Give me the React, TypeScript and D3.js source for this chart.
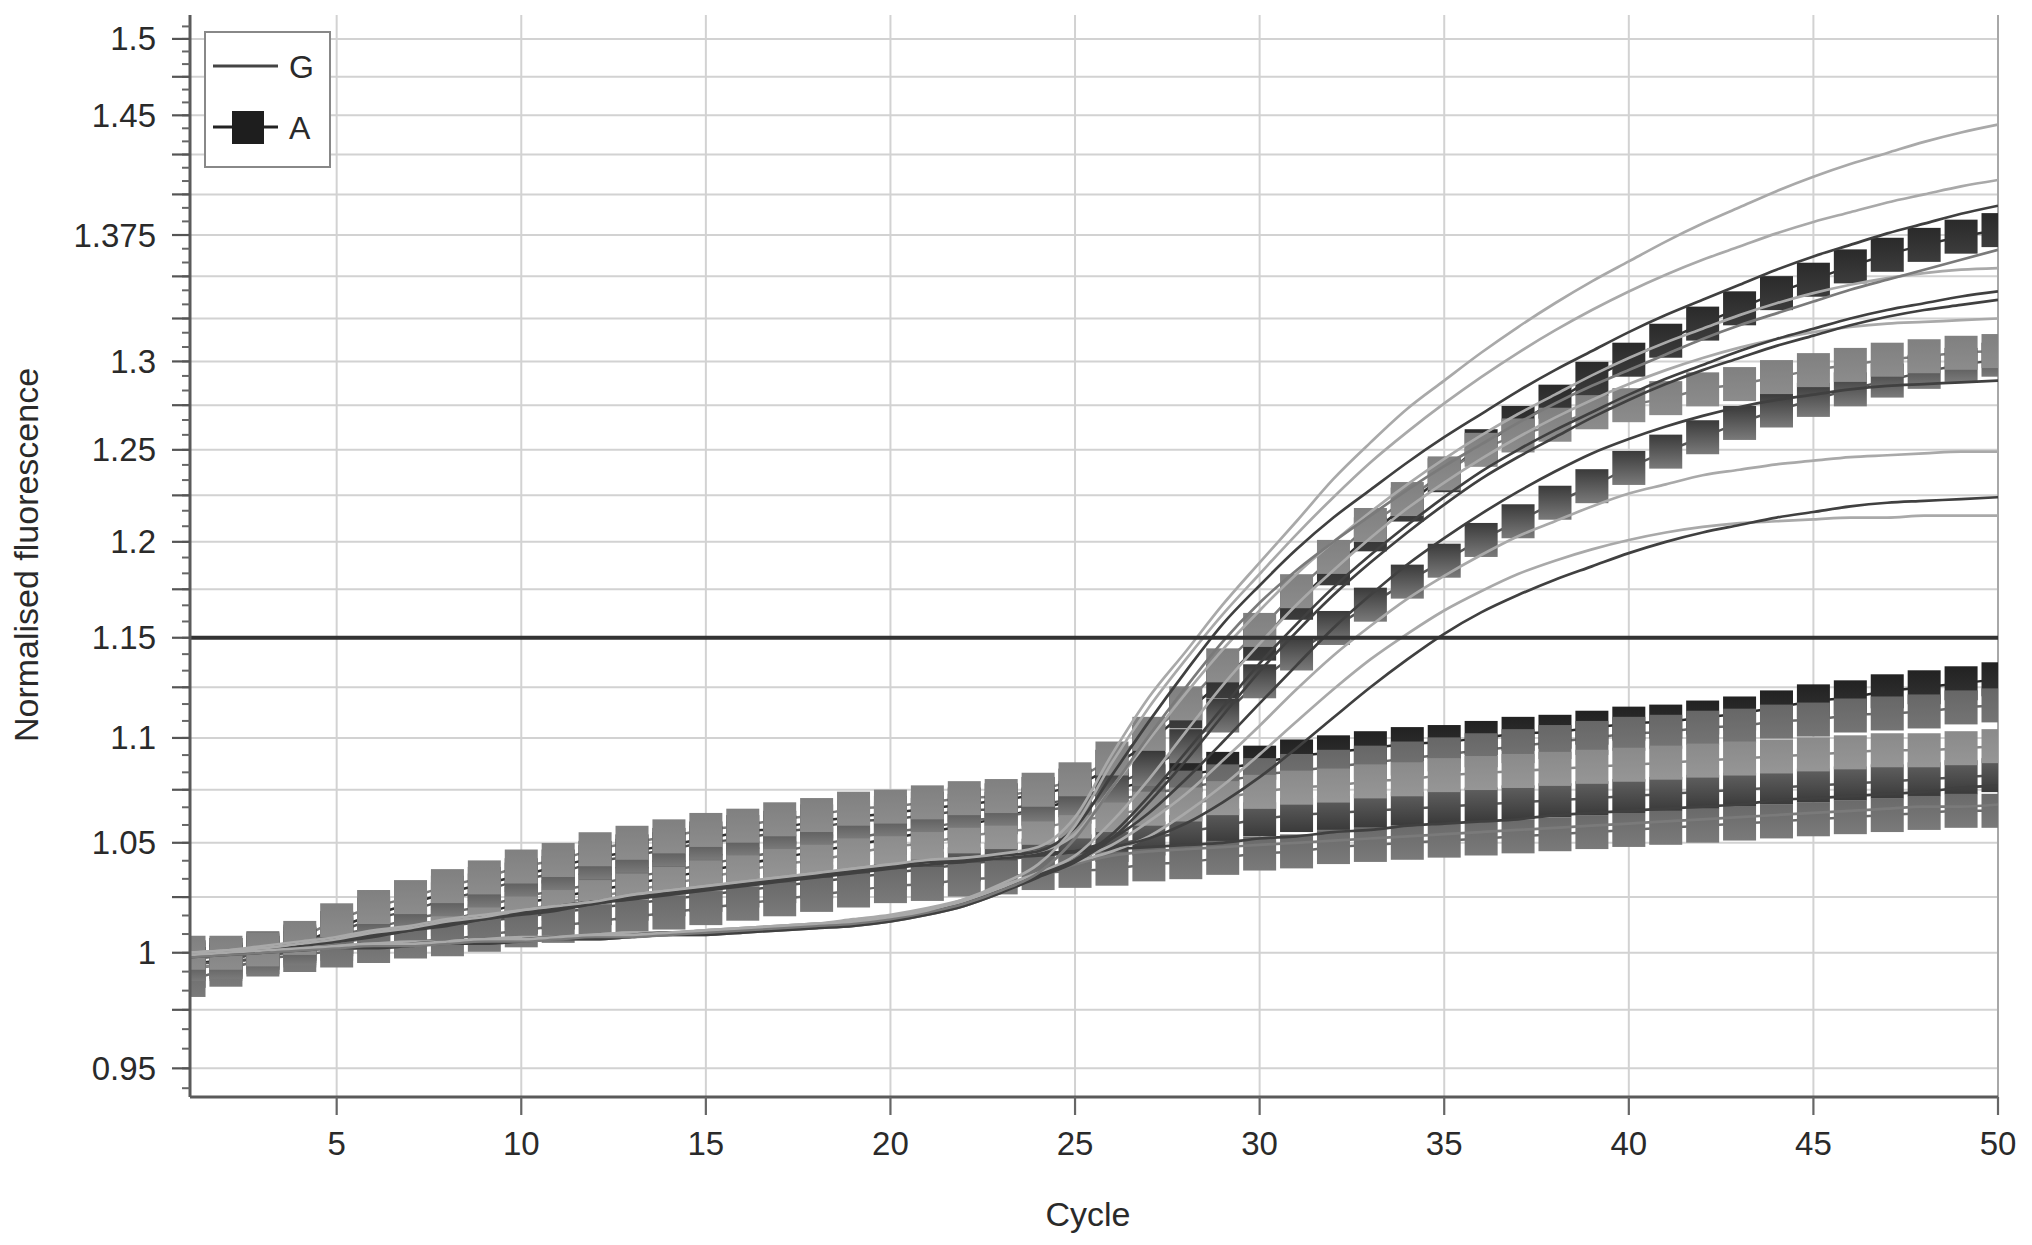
import React from "react";
import * as d3 from "d3";

// ---------- data ----------
const cycles = [1,2,3,4,5,6,7,8,9,10,11,12,13,14,15,16,17,18,19,20,21,22,23,24,25,26,27,28,29,30,31,32,33,34,35,36,37,38,39,40,41,42,43,44,45,46,47,48,49,50];
const xTickLabels = [5, 10, 15, 20, 25, 30, 35, 40, 45, 50];
const yTickLabels = [0.95, 1, 1.05, 1.1, 1.15, 1.2, 1.25, 1.3, 1.375, 1.45, 1.5];
const thresholdValue = 1.15;
const legendLabels = ["G", "A"];

// G (lines only)
const g1 = [1.000,1.001,1.002,1.004,1.006,1.009,1.011,1.014,1.016,1.019,1.021,1.023,1.026,1.028,1.030,1.032,1.034,1.036,1.038,1.040,1.042,1.043,1.045,1.048,1.062,1.092,1.120,1.143,1.167,1.189,1.211,1.234,1.254,1.273,1.289,1.305,1.320,1.334,1.347,1.359,1.371,1.382,1.392,1.402,1.411,1.419,1.426,1.433,1.439,1.444];
const g2 = [0.999,1.000,1.001,1.002,1.003,1.004,1.004,1.005,1.006,1.006,1.007,1.008,1.008,1.009,1.010,1.011,1.012,1.013,1.014,1.016,1.019,1.024,1.031,1.040,1.058,1.088,1.115,1.139,1.162,1.183,1.204,1.224,1.243,1.260,1.276,1.291,1.305,1.318,1.330,1.341,1.351,1.360,1.368,1.376,1.383,1.389,1.395,1.400,1.405,1.409];
const g3 = [0.999,1.000,1.001,1.003,1.005,1.008,1.010,1.013,1.015,1.018,1.020,1.022,1.025,1.027,1.029,1.031,1.033,1.035,1.037,1.039,1.041,1.042,1.044,1.046,1.057,1.082,1.108,1.133,1.157,1.177,1.196,1.213,1.228,1.243,1.257,1.270,1.283,1.295,1.306,1.317,1.327,1.336,1.345,1.354,1.362,1.369,1.376,1.382,1.388,1.393];
const g4 = [0.998,0.999,1.000,1.001,1.002,1.003,1.003,1.004,1.005,1.005,1.006,1.007,1.007,1.008,1.009,1.010,1.011,1.012,1.013,1.015,1.018,1.022,1.028,1.036,1.052,1.076,1.101,1.125,1.148,1.168,1.185,1.200,1.214,1.228,1.241,1.253,1.265,1.276,1.286,1.295,1.304,1.313,1.321,1.328,1.335,1.342,1.348,1.354,1.360,1.366];
const g5 = [1.000,1.001,1.003,1.005,1.007,1.010,1.012,1.015,1.017,1.019,1.021,1.023,1.026,1.028,1.030,1.032,1.034,1.036,1.038,1.040,1.041,1.043,1.044,1.046,1.054,1.076,1.099,1.122,1.144,1.164,1.183,1.200,1.216,1.231,1.245,1.258,1.270,1.281,1.292,1.302,1.311,1.319,1.327,1.334,1.340,1.345,1.349,1.352,1.354,1.355];
const g6 = [0.999,1.000,1.001,1.002,1.003,1.003,1.004,1.005,1.005,1.006,1.007,1.007,1.008,1.009,1.009,1.010,1.011,1.012,1.013,1.015,1.018,1.022,1.028,1.035,1.042,1.054,1.072,1.093,1.115,1.137,1.157,1.176,1.193,1.209,1.224,1.238,1.250,1.261,1.271,1.281,1.290,1.298,1.306,1.313,1.319,1.325,1.330,1.334,1.338,1.341];
const g7 = [0.998,0.999,1.000,1.001,1.002,1.002,1.003,1.004,1.004,1.005,1.006,1.006,1.007,1.008,1.008,1.009,1.010,1.011,1.012,1.014,1.017,1.021,1.027,1.034,1.041,1.052,1.069,1.089,1.111,1.133,1.153,1.172,1.189,1.205,1.220,1.234,1.246,1.257,1.268,1.278,1.287,1.295,1.302,1.309,1.315,1.321,1.326,1.330,1.333,1.336];
const g8 = [1.000,1.001,1.002,1.003,1.003,1.004,1.005,1.005,1.006,1.007,1.007,1.008,1.009,1.009,1.010,1.011,1.012,1.013,1.014,1.016,1.019,1.023,1.029,1.036,1.044,1.060,1.080,1.103,1.126,1.147,1.167,1.185,1.202,1.218,1.232,1.245,1.257,1.268,1.278,1.287,1.295,1.302,1.308,1.313,1.317,1.320,1.322,1.323,1.324,1.325];
const g9 = [0.999,1.000,1.001,1.003,1.005,1.007,1.010,1.012,1.015,1.017,1.019,1.022,1.024,1.026,1.028,1.030,1.032,1.034,1.036,1.038,1.040,1.041,1.043,1.044,1.046,1.052,1.064,1.080,1.098,1.117,1.136,1.155,1.172,1.188,1.202,1.215,1.227,1.238,1.248,1.256,1.263,1.269,1.274,1.278,1.281,1.284,1.286,1.287,1.288,1.289];
const g10 = [1.000,1.001,1.002,1.002,1.003,1.004,1.004,1.005,1.006,1.006,1.007,1.008,1.009,1.009,1.010,1.011,1.012,1.013,1.015,1.017,1.020,1.024,1.030,1.036,1.042,1.049,1.060,1.073,1.089,1.106,1.124,1.141,1.156,1.170,1.182,1.193,1.203,1.211,1.219,1.226,1.231,1.236,1.239,1.242,1.244,1.246,1.247,1.248,1.249,1.249];
const g11 = [1.000,1.001,1.002,1.004,1.006,1.008,1.011,1.013,1.016,1.018,1.020,1.023,1.025,1.027,1.029,1.031,1.033,1.035,1.037,1.039,1.040,1.042,1.043,1.045,1.046,1.048,1.052,1.059,1.069,1.081,1.095,1.110,1.125,1.139,1.152,1.163,1.172,1.180,1.187,1.194,1.200,1.205,1.209,1.213,1.216,1.219,1.221,1.222,1.223,1.224];
const g12 = [0.999,1.000,1.001,1.002,1.002,1.003,1.004,1.004,1.005,1.006,1.006,1.007,1.008,1.008,1.009,1.010,1.011,1.012,1.013,1.015,1.018,1.022,1.028,1.035,1.041,1.046,1.053,1.064,1.077,1.092,1.108,1.124,1.139,1.152,1.164,1.174,1.183,1.190,1.196,1.201,1.205,1.208,1.210,1.211,1.212,1.213,1.213,1.214,1.214,1.214];
const gn1 = [0.999,1.000,1.002,1.004,1.006,1.009,1.011,1.014,1.016,1.018,1.021,1.023,1.025,1.027,1.029,1.031,1.033,1.035,1.037,1.039,1.040,1.042,1.043,1.045,1.046,1.047,1.048,1.049,1.050,1.052,1.053,1.055,1.056,1.058,1.059,1.060,1.061,1.063,1.064,1.065,1.066,1.067,1.068,1.070,1.071,1.072,1.073,1.074,1.076,1.077];
const gn2 = [0.999,0.999,1.000,1.001,1.002,1.002,1.003,1.004,1.004,1.005,1.006,1.006,1.007,1.008,1.008,1.009,1.010,1.011,1.012,1.014,1.017,1.021,1.027,1.034,1.040,1.044,1.046,1.047,1.048,1.049,1.050,1.051,1.052,1.053,1.054,1.055,1.056,1.057,1.058,1.059,1.060,1.061,1.062,1.063,1.064,1.065,1.066,1.067,1.067,1.068];

// A (lines with square markers)
const a1 = [0.998,0.999,1.000,1.004,1.011,1.017,1.022,1.027,1.031,1.035,1.039,1.043,1.046,1.049,1.052,1.055,1.057,1.060,1.062,1.064,1.066,1.068,1.070,1.073,1.077,1.086,1.098,1.113,1.128,1.147,1.168,1.186,1.204,1.220,1.236,1.252,1.265,1.277,1.290,1.301,1.312,1.322,1.331,1.340,1.348,1.356,1.363,1.369,1.374,1.378];
const a2 = [1.000,1.000,1.0015,1.0066,1.0145,1.0205,1.025,1.030,1.034,1.039,1.042,1.047,1.050,1.053,1.056,1.058,1.061,1.063,1.066,1.067,1.069,1.071,1.072,1.075,1.080,1.090,1.102,1.117,1.136,1.154,1.174,1.192,1.209,1.223,1.237,1.250,1.258,1.264,1.271,1.275,1.279,1.284,1.287,1.291,1.295,1.298,1.301,1.303,1.305,1.306];
const a3 = [0.995,0.996,0.998,1.002,1.009,1.015,1.019,1.024,1.028,1.033,1.036,1.041,1.044,1.047,1.050,1.052,1.055,1.057,1.060,1.061,1.063,1.065,1.066,1.068,1.071,1.077,1.085,1.096,1.111,1.128,1.142,1.155,1.167,1.179,1.190,1.201,1.211,1.221,1.230,1.240,1.249,1.257,1.265,1.272,1.278,1.284,1.289,1.294,1.298,1.301];
const n1 = [0.995,0.997,1.000,1.003,1.006,1.009,1.012,1.015,1.018,1.022,1.025,1.028,1.031,1.034,1.037,1.040,1.043,1.046,1.049,1.052,1.055,1.058,1.062,1.066,1.070,1.075,1.079,1.082,1.085,1.088,1.091,1.093,1.095,1.097,1.098,1.100,1.102,1.103,1.105,1.107,1.108,1.110,1.112,1.115,1.118,1.120,1.123,1.125,1.127,1.129];
const n2 = [0.997,0.999,1.002,1.005,1.008,1.011,1.015,1.018,1.021,1.025,1.028,1.031,1.034,1.037,1.040,1.043,1.046,1.049,1.052,1.055,1.057,1.060,1.062,1.065,1.067,1.070,1.073,1.076,1.079,1.082,1.084,1.086,1.088,1.090,1.092,1.094,1.096,1.098,1.100,1.102,1.103,1.105,1.106,1.108,1.109,1.111,1.112,1.113,1.115,1.116];
const n3 = [0.993,0.995,0.998,1.001,1.004,1.007,1.010,1.013,1.016,1.019,1.022,1.025,1.028,1.031,1.034,1.037,1.040,1.042,1.045,1.048,1.050,1.053,1.055,1.057,1.060,1.063,1.066,1.068,1.071,1.074,1.076,1.077,1.079,1.080,1.082,1.083,1.084,1.085,1.086,1.087,1.088,1.089,1.090,1.091,1.092,1.093,1.094,1.094,1.095,1.096];
const n4 = [0.988,0.9925,0.997,0.999,1.001,1.003,1.005,1.006,1.008,1.010,1.012,1.014,1.016,1.018,1.020,1.022,1.024,1.026,1.028,1.030,1.031,1.033,1.034,1.036,1.037,1.038,1.040,1.041,1.043,1.045,1.046,1.048,1.049,1.050,1.051,1.052,1.053,1.054,1.055,1.056,1.057,1.058,1.059,1.060,1.061,1.062,1.063,1.064,1.065,1.065];
const n5 = [0.992,0.996,1.001,1.004,1.007,1.009,1.011,1.012,1.014,1.016,1.018,1.020,1.022,1.024,1.026,1.028,1.030,1.032,1.034,1.036,1.038,1.040,1.042,1.044,1.046,1.049,1.052,1.055,1.058,1.061,1.063,1.064,1.065,1.066,1.067,1.068,1.069,1.070,1.071,1.072,1.073,1.074,1.075,1.076,1.077,1.078,1.079,1.080,1.081,1.082];

// ---------- styling tables (built from data above) ----------
const toneColor: Record<string, string> = { light: "#a9a9a9", mid: "#7a7a7a", dark: "#404040" };
const gLines = [
  { id: "gn2", values: gn2, tone: "mid" },
  { id: "gn1", values: gn1, tone: "dark" },
  { id: "g12", values: g12, tone: "light" },
  { id: "g11", values: g11, tone: "dark" },
  { id: "g10", values: g10, tone: "light" },
  { id: "g9", values: g9, tone: "dark" },
  { id: "g8", values: g8, tone: "light" },
  { id: "g7", values: g7, tone: "dark" },
  { id: "g6", values: g6, tone: "dark" },
  { id: "g5", values: g5, tone: "light" },
  { id: "g4", values: g4, tone: "mid" },
  { id: "g3", values: g3, tone: "dark" },
  { id: "g2", values: g2, tone: "light" },
  { id: "g1", values: g1, tone: "light" },
];
// drawn in order: first is bottom
const aSeries = [
  { id: "a1", values: a1, top: "#2a2a2a", bottom: "#3c3c3c", line: "#333" },
  { id: "n1", values: n1, top: "#222222", bottom: "#333333", line: "#2a2a2a" },
  { id: "n5", values: n5, top: "#606060", bottom: "#3a3a3a", line: "#555" },
  { id: "n2", values: n2, top: "#676767", bottom: "#747474", line: "#6a6a6a" },
  { id: "n3", values: n3, top: "#8a8a8a", bottom: "#969696", line: "#888" },
  { id: "n4", values: n4, top: "#6a6a6a", bottom: "#7a7a7a", line: "#6a6a6a" },
  { id: "a3", values: a3, top: "#3a3a3a", bottom: "#7a7a7a", line: "#555" },
  { id: "a2", values: a2, top: "#808080", bottom: "#8c8c8c", line: "#7c7c7c" },
];

const W = 2032;
const H = 1245;
const PL = 190, PR = 1998, PT = 15, PB = 1097;
const FONT = "'Liberation Sans', Arial, Helvetica, sans-serif";

export default function App() {
  const x = d3.scaleLinear().domain([1, 50]).range([189, 1998]);
  const y = d3.scaleLog().domain([0.938, 1.516]).range([PB, PT]);
  const line = d3
    .line<number>()
    .x((_, i) => x(cycles[i]))
    .y((v) => y(v))
    .curve(d3.curveMonotoneX);

  const step = 0.025 / 3;
  const minor = d3.range(-1, 68).map((k) => 0.95 + k * step).filter((v) => v > 0.938 && v < 1.516);
  const major = d3.range(0, 23).map((k) => 0.95 + k * 0.025);
  const SQW = 33, SQH = 34;

  return (
    <svg
      width={W}
      height={H}
      viewBox={`0 0 ${W} ${H}`}
      style={{ position: "absolute", left: 0, top: 0, background: "#fff" }}
    >
      <defs>
        <clipPath id="plot">
          <rect x={PL} y={PT} width={PR - PL} height={PB - PT} />
        </clipPath>
        {aSeries.map((s) => (
          <linearGradient key={s.id} id={`grad-${s.id}`} x1="0" y1="0" x2="0" y2="1">
            <stop offset="0" stopColor={s.top} />
            <stop offset="1" stopColor={s.bottom} />
          </linearGradient>
        ))}
      </defs>
      <rect x={0} y={0} width={W} height={H} fill="#fff" />

      {/* grid */}
      <g>
        {major.map((v, i) => (
          <line key={`hg${i}`} x1={PL} x2={PR} y1={y(v)} y2={y(v)} stroke="#d2d2d2" strokeWidth={2} />
        ))}
        {xTickLabels.map((c) => (
          <line key={`vg${c}`} x1={x(c)} x2={x(c)} y1={PT} y2={PB} stroke={c === 50 ? "#a8a8a8" : "#d2d2d2"} strokeWidth={2} />
        ))}
      </g>

      <g clipPath="url(#plot)">
        {/* A connecting lines */}
        {aSeries.map((s) => (
          <path key={`al-${s.id}`} d={line(s.values) || ""} fill="none" stroke={s.line} strokeWidth={2.5} />
        ))}
        {/* A square markers */}
        {aSeries.map((s) => (
          <g key={`am-${s.id}`}>
            {s.values.map((v, i) => (
              <rect
                key={i}
                x={x(cycles[i]) - SQW / 2}
                y={y(v) - SQH / 2}
                width={SQW}
                height={SQH}
                fill={`url(#grad-${s.id})`}
              />
            ))}
          </g>
        ))}
        {/* G lines */}
        {gLines.map((s) => (
          <path key={s.id} d={line(s.values) || ""} fill="none" stroke={toneColor[s.tone]} strokeWidth={2.7} />
        ))}
        {/* threshold */}
        <line x1={PL} x2={PR} y1={y(thresholdValue)} y2={y(thresholdValue)} stroke="#333" strokeWidth={4} />
      </g>

      {/* axes */}
      <g>
        <line x1={PL} x2={PL} y1={PT} y2={PB} stroke="#5a5a5a" strokeWidth={3} />
        <line x1={PL} x2={PR} y1={PB} y2={PB} stroke="#5a5a5a" strokeWidth={3} />
        {minor.map((v, i) => (
          <line key={`mt${i}`} x1={182} x2={PL} y1={y(v)} y2={y(v)} stroke="#666" strokeWidth={2} />
        ))}
        {major.map((v, i) => (
          <line key={`Mt${i}`} x1={172} x2={PL} y1={y(v)} y2={y(v)} stroke="#555" strokeWidth={2.2} />
        ))}
        {yTickLabels.map((v) => (
          <text
            key={`yl${v}`}
            x={156}
            y={y(v)}
            textAnchor="end"
            dominantBaseline="central"
            fontFamily={FONT}
            fontSize={33}
            fill="#2a2a2a"
          >
            {String(v)}
          </text>
        ))}
        {xTickLabels.map((c) => (
          <line key={`xt${c}`} x1={x(c)} x2={x(c)} y1={PB} y2={PB + 18} stroke="#666" strokeWidth={2.2} />
        ))}
        {xTickLabels.map((c) => (
          <text
            key={`xl${c}`}
            x={x(c)}
            y={1143}
            textAnchor="middle"
            dominantBaseline="central"
            fontFamily={FONT}
            fontSize={33}
            fill="#2a2a2a"
          >
            {String(c)}
          </text>
        ))}
        <text x={1088} y={1214} textAnchor="middle" dominantBaseline="central" fontFamily={FONT} fontSize={34} fill="#2a2a2a">
          Cycle
        </text>
        <text
          transform={`translate(26, 555) rotate(-90)`}
          textAnchor="middle"
          dominantBaseline="central"
          fontFamily={FONT}
          fontSize={34}
          fill="#2a2a2a"
        >
          Normalised fluorescence
        </text>
      </g>

      {/* legend */}
      <g>
        <rect x={205} y={32} width={125} height={135} fill="#fff" stroke="#888" strokeWidth={2} />
        <line x1={213} x2={278} y1={66} y2={66} stroke="#444" strokeWidth={3} />
        <text x={289} y={67} dominantBaseline="central" fontFamily={FONT} fontSize={32} fill="#2a2a2a">
          {legendLabels[0]}
        </text>
        <line x1={213} x2={278} y1={127} y2={127} stroke="#222" strokeWidth={3} />
        <rect x={232} y={111} width={32} height={33} fill="#1e1e1e" />
        <text x={289} y={128} dominantBaseline="central" fontFamily={FONT} fontSize={32} fill="#2a2a2a">
          {legendLabels[1]}
        </text>
      </g>
    </svg>
  );
}
